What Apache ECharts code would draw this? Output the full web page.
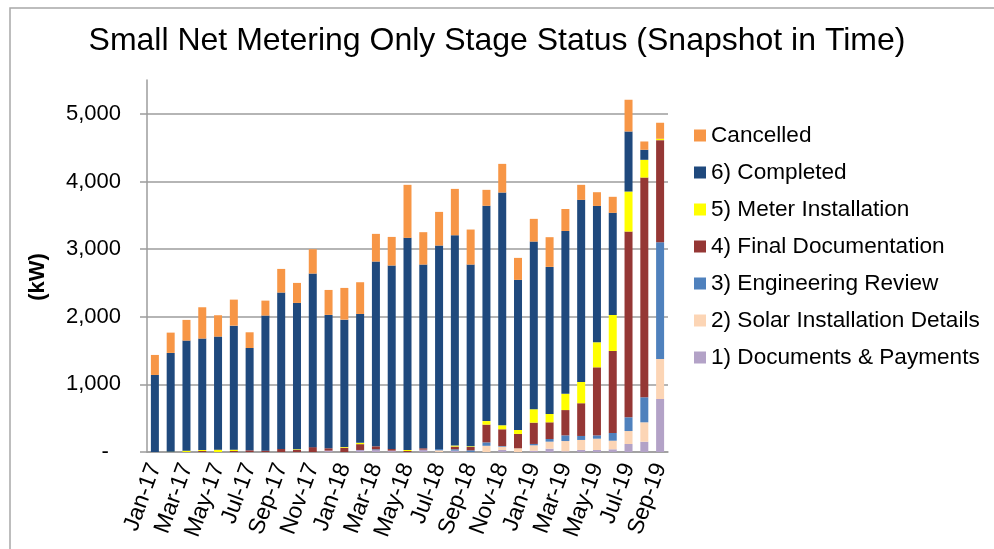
<!DOCTYPE html>
<html>
<head>
<meta charset="utf-8">
<script src="https://cdn.jsdelivr.net/npm/echarts@6/dist/echarts.min.js"></script>
<style>html,body{margin:0;padding:0;background:#fff;}#c{width:994px;height:549px;}</style>
</head>
<body>
<div id="c"></div>
<script>
const categories = ['Jan-17','Feb-17','Mar-17','Apr-17','May-17','Jun-17','Jul-17','Aug-17','Sep-17','Oct-17','Nov-17','Dec-17',
  'Jan-18','Feb-18','Mar-18','Apr-18','May-18','Jun-18','Jul-18','Aug-18','Sep-18','Oct-18','Nov-18','Dec-18',
  'Jan-19','Feb-19','Mar-19','Apr-19','May-19','Jun-19','Jul-19','Aug-19','Sep-19'];
const docsPayments = [0,0,0,0,0,0,0,0,0,0,0,20, 0,30,30,20,0,35,0,20,0,0,30,0, 19,49,10,30,30,40,118,152,784];
const solarDetails = [0,0,0,0,0,0,0,0,0,0,0,0, 0,0,0,0,0,0,25,0,0,92,49,55, 80,104,152,148,167,127,192,287,592];
const engReview    = [0,0,0,0,0,0,0,0,0,0,0,0, 0,0,10,0,0,0,20,20,25,50,10,0, 20,39,84,59,49,114,203,370,1726];
const finalDoc     = [0,0,0,15,0,15,25,20,45,30,72,35, 64,86,44,25,15,20,0,40,49,263,247,212, 315,247,374,484,1006,1213,2746,3249,1509];
const meterInst    = [0,5,20,15,35,20,0,0,0,10,0,0, 10,20,0,0,15,0,0,15,10,52,59,59, 198,123,241,315,370,533,592,262,20];
const completed    = [1139,1460,1627,1647,1671,1833,1513,1997,2312,2164,2566,1972, 1883,1905,2732,2712,3136,2716,3007,3110,2687,3183,3441,2219, 2479,2175,2407,2692,2016,1509,888,148,0];
const cancelled    = [296,300,306,463,316,385,232,221,350,296,360,369, 469,469,409,423,784,479,498,685,518,236,424,325, 336,439,325,222,203,237,469,123,237];
const yTicks = [0,1000,2000,3000,4000,5000];

const names = ['1) Documents & Payments','2) Solar Installation Details','3) Engineering Review','4) Final Documentation','5) Meter Installation','6) Completed','Cancelled'];
const colors = ['#B3A2C7','#FCD5B5','#4F81BD','#953735','#FFFF00','#1F497D','#F79646'];
const seriesData = [docsPayments, solarDetails, engReview, finalDoc, meterInst, completed, cancelled];

const FONT = '"Liberation Sans", Arial, sans-serif';
const gray = '#9c9c9c';
const chart = echarts.init(document.getElementById('c'), null, {renderer:'canvas'});
chart.setOption({
  animation: false,
  backgroundColor: '#fff',
  title: {
    text: 'Small Net Metering Only Stage Status (Snapshot in Time)',
    left: 'center', top: 20,
    textStyle: {fontFamily: FONT, fontSize: 32, fontWeight: 'normal', color: '#000'}
  },
  graphic: [
    {type:'rect', shape:{x:10, y:8, width:1100, height:700}, style:{fill:'none', stroke:'#a8a8a8', lineWidth:1.5}, silent:true, z:-1},
    {type:'text', x:38, y:277, rotation: Math.PI/2,
     style:{text:'(kW)', font:'bold 22px "Liberation Sans", Arial, sans-serif', fill:'#000', textAlign:'center', textVerticalAlign:'middle'}}
  ],
  legend: {
    orient: 'vertical', left: 694, top: 124, padding: 0,
    itemWidth: 12, itemHeight: 12, itemGap: 14,
    icon: 'rect',
    data: names.slice().reverse(),
    textStyle: {fontFamily: FONT, fontSize: 22.6, color: '#000', lineHeight: 22}
  },
  grid: {left: 147, top: 80, width: 521, height: 372, containLabel: false},
  xAxis: {
    type: 'category', data: categories,
    axisLine: {lineStyle: {color: gray, width: 1.5}},
    axisTick: {interval: 1, length: 6, lineStyle: {color: gray, width: 1.5}},
    axisLabel: {interval: 1, rotate: 70, margin: 12, fontFamily: FONT, fontSize: 23, color: '#000'}
  },
  yAxis: {
    type: 'value', min: 0, max: 5500, interval: 1000,
    axisLine: {show: true, lineStyle: {color: gray, width: 1.5}},
    axisTick: {show: true, length: 7, customValues: yTicks, lineStyle: {color: gray, width: 1.5}},
    splitLine: {show: true, lineStyle: {color: gray, width: 1.5}},
    axisLabel: {
      showMaxLabel: false, margin: 26,
      fontFamily: FONT, fontSize: 22, color: '#000',
      formatter: v => v === 0 ? '-  ' : (v > 5000 ? '' : v.toLocaleString('en-US'))
    }
  },
  series: seriesData.map((d, i) => ({
    name: names[i], type: 'bar', stack: 'total', data: d, barWidth: 8,
    itemStyle: {color: colors[i]},
    emphasis: {disabled: true}
  }))
});
</script>
</body>
</html>
